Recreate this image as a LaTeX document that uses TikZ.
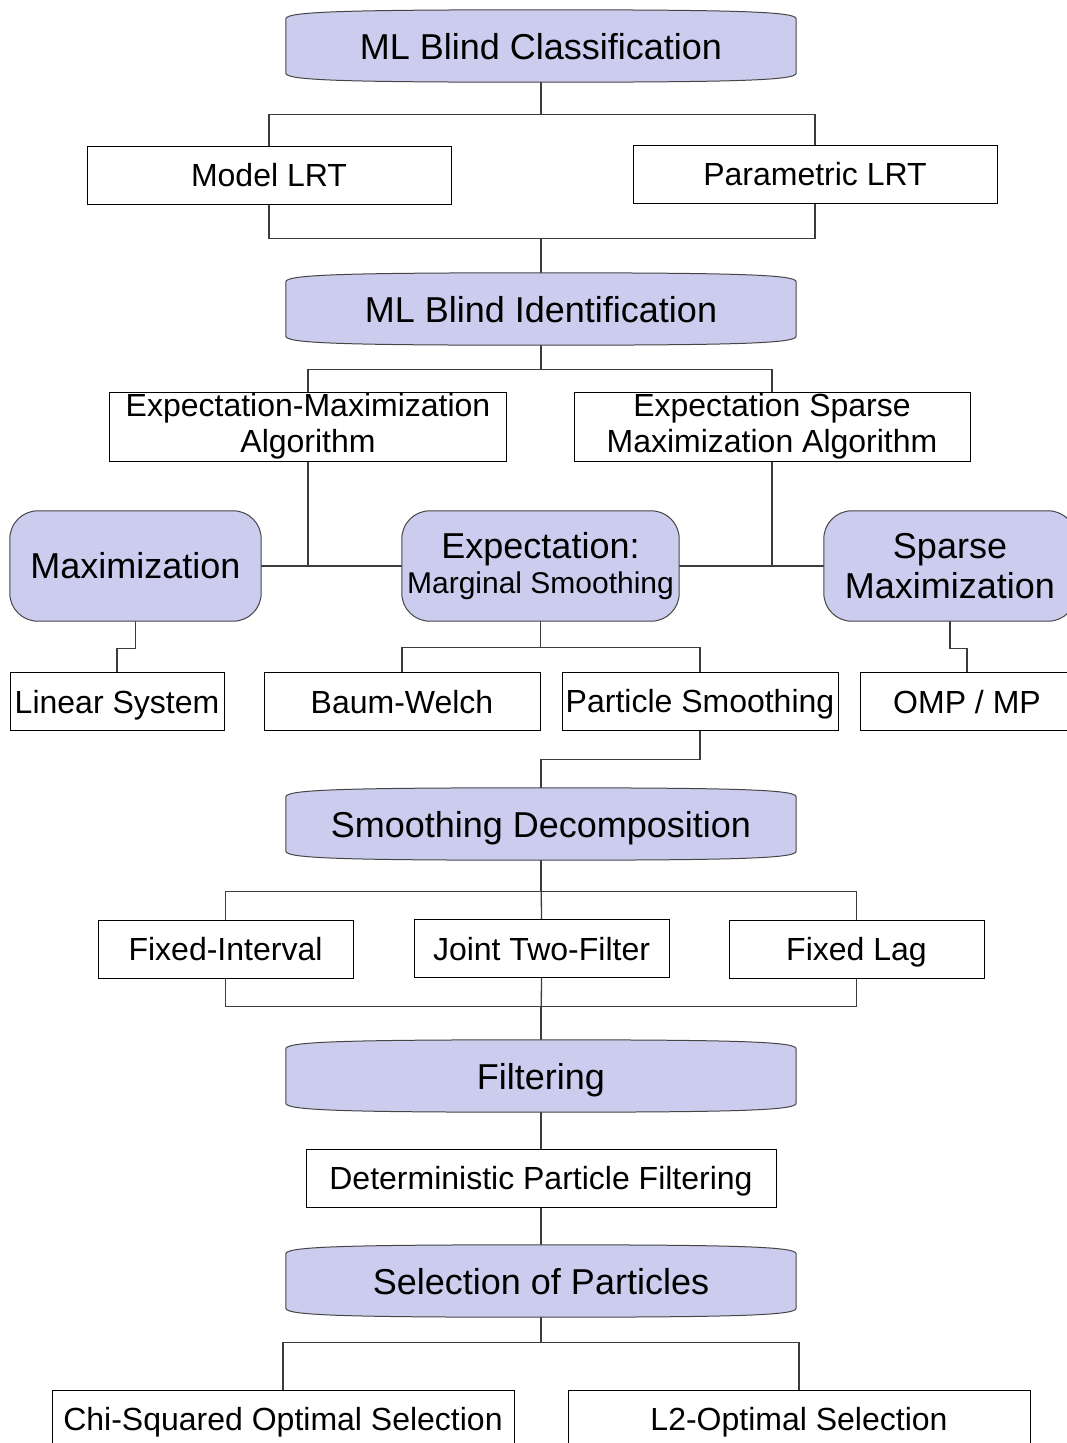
\documentclass[tikz,border=0pt]{standalone}
\usepackage{fontspec}
\setmainfont{Liberation Sans}
\usetikzlibrary{calc,backgrounds}
\definecolor{lav}{RGB}{204,204,238}
\definecolor{edgegray}{RGB}{60,60,60}
\definecolor{shapegray}{RGB}{70,70,70}
\tikzset{
  bigtext/.style={font=\fontsize{36}{40}\selectfont, inner sep=0pt, align=center},
  wide/.style={bigtext, minimum width=510pt, minimum height=72pt, text height=26pt, text depth=0pt},
  tall/.style={bigtext, minimum height=110pt},
  box/.style={draw=black, line width=0.9pt, font=\fontsize{32}{35}\selectfont, inner sep=0pt, align=center, minimum height=58pt},
  onebox/.style={box, text height=23pt, text depth=0pt},
  conn/.style={draw=edgegray, line width=1.3pt},
  shapeline/.style={draw=shapegray, fill=lav, line width=1pt}
}
\newcommand\wideshape[1]{%
  \path[shapeline] ($(#1.north west)+(0,9)$) .. controls ($(#1.north west)+(0,2)$) and ($(#1.north)+(-200,0)$) .. (#1.north)
    .. controls ($(#1.north)+(200,0)$) and ($(#1.north east)+(0,2)$) .. ($(#1.north east)+(0,9)$)
    -- ($(#1.south east)+(0,-9)$) .. controls ($(#1.south east)+(0,-2)$) and ($(#1.south)+(200,0)$) .. (#1.south)
    .. controls ($(#1.south)+(-200,0)$) and ($(#1.south west)+(0,-2)$) .. ($(#1.south west)+(0,-9)$) -- cycle;}
\newcommand\tallshape[1]{%
  \path[shapeline, rounded corners=28pt] (#1.north west) rectangle (#1.south east);}
\begin{document}
\begin{tikzpicture}[x=1pt,y=-1pt]
\useasboundingbox (0,0) rectangle (1067,1443);
\clip (0,0) rectangle (1067,1443);
% nodes
\node[wide] (mlbc) at (541,46) {ML Blind Classification};
\node[onebox, minimum width=364pt] (mlrt) at (269,175) {Model LRT};
\node[onebox, minimum width=364pt] (plrt) at (815,174) {Parametric LRT};
\node[wide] (mlbi) at (541,309) {ML Blind Identification};
\node[box, minimum width=397pt, minimum height=69pt] (em) at (308,426.5) {Expectation-Maximization\\[1pt]Algorithm};
\node[box, minimum width=396pt, minimum height=69pt] (esm) at (772,426.5) {Expectation Sparse\\[1pt]Maximization Algorithm};
\node[tall, minimum width=251pt] (max) at (135.5,566) {Maximization};
\node[tall, minimum width=277pt] (exp) at (540.5,566) {Expectation:\\[-5pt]{\fontsize{30}{34}\selectfont Marginal Smoothing}};
\node[tall, minimum width=252pt] (smax) at (950,566) {Sparse\\Maximization};
\node[onebox, minimum width=214pt] (lin) at (117,701.5) {Linear System};
\node[onebox, minimum width=276pt] (bw) at (402,701.5) {Baum-Welch};
\node[onebox, minimum width=276pt] (ps) at (700,701) {Particle Smoothing};
\node[onebox, minimum width=214pt] (omp) at (967,701.5) {OMP / MP};
\node[wide] (sd) at (541,824) {Smoothing Decomposition};
\node[onebox, minimum width=255pt] (fi) at (225.5,949) {Fixed-Interval};
\node[onebox, minimum width=255pt] (jtf) at (541.5,948.5) {Joint Two-Filter};
\node[onebox, minimum width=255pt] (fl) at (856.5,949) {Fixed Lag};
\node[wide] (filt) at (541,1076) {Filtering};
\node[onebox, minimum width=470pt] (dpf) at (541,1178) {Deterministic Particle Filtering};
\node[wide] (sel) at (541,1281) {Selection of Particles};
\node[onebox, minimum width=462pt] (chi) at (283,1419) {Chi-Squared Optimal Selection};
\node[onebox, minimum width=462pt] (l2) at (799,1419) {L2-Optimal Selection};
\begin{scope}[on background layer]
% connectors
\draw[conn] (mlbc.south) -- ++(0,32) -| (mlrt.north);
\draw[conn] (mlbc.south) -- ++(0,32) -| (plrt.north);
\draw[conn] (mlrt.south) -- ++(0,34) -| (mlbi.north);
\draw[conn] (plrt.south) -- ++(0,35) -| (mlbi.north);
\draw[conn] (mlbi.south) -- ++(0,24) -| (em.north);
\draw[conn] (mlbi.south) -- ++(0,24) -| (esm.north);
\draw[conn] (em.south) -- (em.south |- max.east);
\draw[conn] (max.east) -- (exp.west);
\draw[conn] (esm.south) -- (esm.south |- exp.east);
\draw[conn] (exp.east) -- (smax.west);
\draw[conn] (max.south) -- ++(0,27) -| (lin.north);
\draw[conn] (exp.south) -- ++(0,26) -| (bw.north);
\draw[conn] (exp.south) -- ++(0,26) -| (ps.north);
\draw[conn] (smax.south) -- ++(0,27) -| (omp.north);
\draw[conn] (ps.south) -- ++(0,29) -| (sd.north);
\draw[conn] (sd.south) -- ++(0,31) -| (fi.north);
\draw[conn] (sd.south) -- ++(0,31) -| (fl.north);
\draw[conn] (sd.south) -- (jtf.north);
\draw[conn] (fi.south) -- ++(0,28) -| (filt.north);
\draw[conn] (fl.south) -- ++(0,28) -| (filt.north);
\draw[conn] (jtf.south) -- (filt.north);
\draw[conn] (filt.south) -- (dpf.north);
\draw[conn] (dpf.south) -- (sel.north);
\draw[conn] (sel.south) -- ++(0,25) -| (chi.north);
\draw[conn] (sel.south) -- ++(0,25) -| (l2.north);
% shapes
\wideshape{mlbc}
\wideshape{mlbi}
\wideshape{sd}
\wideshape{filt}
\wideshape{sel}
\tallshape{max}
\tallshape{exp}
\tallshape{smax}
\end{scope}
\end{tikzpicture}
\end{document}
